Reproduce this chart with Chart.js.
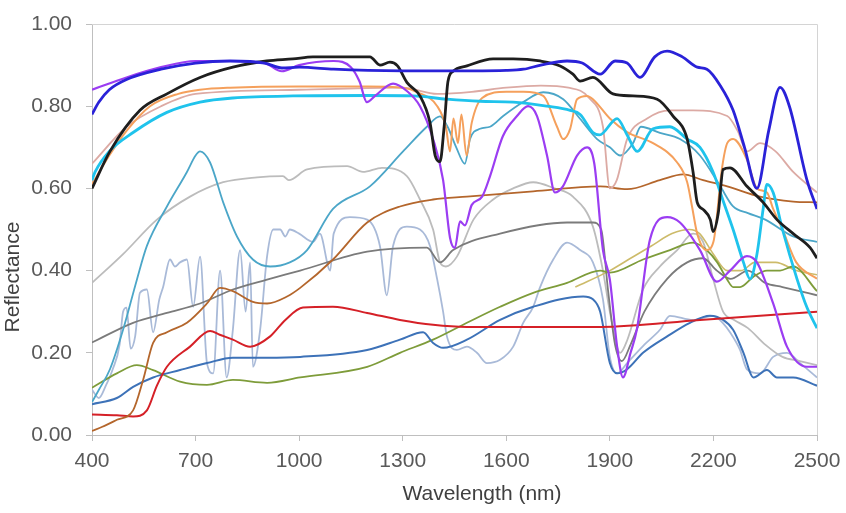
<!DOCTYPE html>
<html>
<head>
<meta charset="utf-8">
<title>Reflectance spectra</title>
<script src="https://cdn.jsdelivr.net/npm/chart.js@4.4.1/dist/chart.umd.min.js"></script>
<style>
  html, body { margin: 0; padding: 0; background: #fff; }
  #wrap { width: 846px; height: 513px; }
</style>
</head>
<body>
<div id="wrap"><canvas id="spectra" width="846" height="513"></canvas></div>
<script>
/* axis ticks */
const X_TICKS = [400, 700, 1000, 1300, 1600, 1900, 2200, 2500];
const Y_TICKS = [0, 0.2, 0.4, 0.6, 0.8, 1.0];

/* spectra: wavelength (nm) / reflectance pairs of arrays */
const blueNm = [400,420,450,500,600,700,800,900,950,1000,1100,1200,1300,1400,1500,1600,1650,1700,1776,1820,1872,1915,1950,1987,2030,2066,2110,2153,2181,2220,2257,2290,2326,2360,2393,2420,2471,2500];
const blueR  = [0.78,0.81,0.84,0.865,0.89,0.905,0.91,0.905,0.893,0.895,0.89,0.887,0.886,0.886,0.886,0.887,0.89,0.90,0.91,0.905,0.878,0.91,0.905,0.87,0.92,0.934,0.92,0.895,0.89,0.85,0.79,0.70,0.60,0.74,0.846,0.80,0.62,0.55];

const purpleNm = [400,500,600,700,800,900,950,1000,1100,1150,1175,1196,1220,1272,1312,1350,1388,1417,1437,1451,1466,1480,1500,1530,1553,1590,1631,1663,1689,1718,1741,1764,1805,1834,1855,1880,1900,1921,1938,1960,1978,2016,2066,2103,2161,2210,2248,2297,2326,2373,2413,2471,2500];
const purpleR  = [0.84,0.87,0.895,0.91,0.91,0.905,0.885,0.90,0.91,0.895,0.86,0.81,0.825,0.855,0.837,0.80,0.72,0.62,0.48,0.455,0.52,0.51,0.56,0.58,0.63,0.727,0.776,0.80,0.776,0.68,0.59,0.605,0.68,0.70,0.66,0.45,0.378,0.215,0.14,0.20,0.256,0.475,0.53,0.517,0.45,0.373,0.40,0.435,0.42,0.32,0.215,0.166,0.166];

const blackNm = [400,452,539,617,713,808,906,982,1040,1139,1205,1234,1263,1285,1312,1350,1379,1394,1408,1420,1431,1446,1486,1562,1620,1698,1756,1793,1814,1851,1909,1967,2037,2083,2124,2141,2153,2170,2191,2199,2214,2228,2248,2297,2344,2384,2431,2480,2500];
const blackR  = [0.60,0.69,0.79,0.83,0.87,0.895,0.91,0.915,0.92,0.92,0.92,0.90,0.907,0.898,0.858,0.825,0.76,0.68,0.665,0.75,0.86,0.885,0.898,0.915,0.915,0.91,0.898,0.878,0.861,0.87,0.83,0.825,0.817,0.776,0.72,0.64,0.566,0.549,0.524,0.495,0.54,0.646,0.65,0.605,0.566,0.524,0.49,0.456,0.43];

const orangeNm = [400,450,500,568,650,713,800,1000,1200,1300,1340,1400,1425,1437,1447,1460,1470,1485,1500,1530,1600,1650,1707,1747,1765,1785,1805,1834,1851,1900,1950,2025,2095,2124,2138,2153,2180,2200,2225,2240,2257,2297,2326,2355,2373,2400,2440,2500];
const orangeR  = [0.61,0.68,0.74,0.80,0.83,0.84,0.845,0.848,0.848,0.845,0.835,0.80,0.75,0.69,0.77,0.71,0.78,0.68,0.76,0.82,0.835,0.835,0.825,0.75,0.72,0.745,0.817,0.825,0.817,0.77,0.737,0.71,0.663,0.615,0.556,0.49,0.45,0.47,0.65,0.71,0.72,0.67,0.60,0.59,0.55,0.50,0.42,0.38];

const rosyNm = [400,500,600,700,1000,1300,1400,1500,1600,1700,1780,1840,1880,1900,1920,1950,2008,2074,2141,2240,2270,2297,2335,2380,2431,2500];
const rosyR  = [0.66,0.75,0.80,0.83,0.84,0.845,0.83,0.835,0.845,0.85,0.845,0.82,0.75,0.60,0.62,0.72,0.77,0.79,0.79,0.776,0.74,0.69,0.71,0.69,0.64,0.59];

const cyanNm = [400,409,450,519,617,713,808,982,1200,1330,1428,1524,1620,1718,1785,1814,1851,1870,1921,1950,1979,2025,2074,2124,2161,2199,2228,2257,2287,2306,2326,2344,2355,2373,2400,2442,2471,2500];
const cyanR  = [0.62,0.64,0.69,0.736,0.785,0.81,0.82,0.825,0.826,0.825,0.817,0.812,0.81,0.80,0.79,0.78,0.736,0.73,0.77,0.73,0.69,0.745,0.75,0.72,0.70,0.64,0.57,0.50,0.42,0.38,0.44,0.55,0.61,0.59,0.50,0.38,0.31,0.26];

const tealNm = [400,420,452,490,530,559,617,675,700,713,742,780,820,866,916,973,1023,1098,1205,1301,1370,1408,1430,1455,1480,1495,1524,1553,1591,1649,1707,1765,1813,1863,1900,1930,1967,1990,2045,2103,2161,2220,2257,2300,2350,2431,2500];
const tealR  = [0.08,0.11,0.16,0.256,0.378,0.46,0.556,0.64,0.68,0.69,0.663,0.566,0.483,0.427,0.41,0.42,0.45,0.55,0.605,0.69,0.75,0.775,0.75,0.70,0.66,0.72,0.745,0.75,0.776,0.81,0.834,0.817,0.77,0.72,0.70,0.68,0.71,0.75,0.735,0.72,0.68,0.605,0.556,0.54,0.524,0.483,0.47];

const lightGrayNm = [400,490,588,684,780,878,953,970,1023,1139,1185,1240,1312,1350,1388,1408,1425,1457,1505,1562,1620,1678,1740,1793,1851,1880,1900,1930,1950,1996,2045,2095,2141,2170,2199,2228,2260,2300,2350,2400,2450,2500];
const lightGrayR  = [0.37,0.44,0.524,0.58,0.615,0.627,0.63,0.62,0.646,0.654,0.64,0.65,0.63,0.573,0.50,0.42,0.41,0.434,0.524,0.573,0.60,0.615,0.60,0.58,0.507,0.40,0.30,0.20,0.23,0.354,0.41,0.45,0.49,0.47,0.38,0.30,0.28,0.26,0.22,0.19,0.18,0.17];

const steelNm = [400,420,440,460,480,490,500,512,525,539,559,577,595,606,626,640,655,675,693,713,733,751,771,790,808,829,845,858,866,887,907,925,945,960,973,1000,1040,1060,1090,1100,1147,1197,1234,1254,1272,1312,1350,1379,1400,1417,1428,1457,1486,1515,1544,1582,1620,1649,1678,1698,1736,1776,1814,1851,1880,1900,1921,1950,2000,2045,2074,2141,2199,2230,2248,2277,2297,2335,2373,2413,2451,2500];
const steelR  = [0.11,0.09,0.12,0.16,0.22,0.30,0.31,0.21,0.24,0.346,0.354,0.25,0.33,0.36,0.427,0.41,0.42,0.427,0.312,0.434,0.175,0.15,0.40,0.14,0.256,0.45,0.30,0.42,0.166,0.256,0.434,0.50,0.50,0.483,0.50,0.49,0.47,0.49,0.40,0.49,0.53,0.524,0.46,0.34,0.46,0.507,0.50,0.46,0.378,0.30,0.24,0.207,0.215,0.20,0.175,0.183,0.215,0.273,0.312,0.36,0.427,0.468,0.45,0.42,0.33,0.19,0.15,0.175,0.22,0.256,0.29,0.28,0.29,0.27,0.25,0.207,0.16,0.15,0.19,0.20,0.175,0.14];

const brownNm = [400,430,472,519,548,577,617,675,733,771,808,866,907,965,1003,1098,1197,1292,1388,1486,1678,1872,1950,2045,2112,2170,2240,2335,2431,2500];
const brownR  = [0.01,0.02,0.037,0.06,0.134,0.224,0.25,0.273,0.32,0.358,0.35,0.324,0.32,0.337,0.358,0.427,0.517,0.556,0.573,0.58,0.593,0.605,0.598,0.62,0.634,0.62,0.605,0.58,0.568,0.566];

const darkGrayNm = [400,519,617,713,808,907,1003,1197,1370,1408,1446,1582,1776,1851,1875,1895,1915,1935,1960,2000,2066,2124,2170,2210,2250,2300,2350,2400,2450,2500];
const darkGrayR  = [0.225,0.273,0.297,0.32,0.354,0.378,0.40,0.446,0.456,0.42,0.45,0.49,0.517,0.517,0.50,0.35,0.22,0.18,0.22,0.30,0.38,0.42,0.43,0.40,0.38,0.40,0.37,0.36,0.35,0.34];

const redNm = [400,472,519,559,588,617,684,742,770,808,858,916,960,1011,1098,1197,1292,1388,1486,1678,1872,2161,2500];
const redR  = [0.05,0.048,0.045,0.06,0.12,0.166,0.215,0.253,0.244,0.232,0.215,0.24,0.28,0.31,0.312,0.297,0.28,0.268,0.263,0.263,0.263,0.28,0.30];

const midBlueNm = [400,472,519,577,655,733,808,907,1003,1197,1292,1359,1388,1417,1486,1582,1678,1823,1851,1872,1900,1921,1950,1996,2066,2132,2190,2228,2257,2287,2316,2355,2384,2431,2500];
const midBlueR  = [0.075,0.09,0.117,0.14,0.158,0.175,0.188,0.188,0.19,0.207,0.232,0.25,0.224,0.212,0.232,0.28,0.312,0.337,0.33,0.30,0.175,0.15,0.16,0.20,0.24,0.273,0.29,0.28,0.256,0.20,0.14,0.158,0.14,0.14,0.12];

const oliveNm = [400,472,530,577,655,733,808,907,1003,1197,1292,1388,1486,1582,1678,1776,1872,1900,1996,2074,2141,2180,2211,2240,2257,2277,2316,2355,2393,2431,2500];
const oliveR  = [0.115,0.15,0.17,0.158,0.13,0.122,0.134,0.127,0.14,0.166,0.20,0.232,0.273,0.312,0.346,0.37,0.40,0.395,0.427,0.45,0.468,0.45,0.42,0.378,0.36,0.36,0.385,0.40,0.40,0.41,0.35];

const khakiNm = [1800,1900,1960,2020,2080,2130,2160,2200,2240,2280,2320,2380,2440,2500];
const khakiR  = [0.36,0.40,0.43,0.46,0.49,0.50,0.49,0.44,0.40,0.40,0.42,0.42,0.40,0.39];

function pts(nm, r) {
  return nm.map((w, i) => ({ x: w, y: r[i] }));
}

function series(nm, r, color, width) {
  return {
    data: pts(nm, r),
    borderColor: color,
    borderWidth: width,
    pointRadius: 0,
    cubicInterpolationMode: "monotone",
    fill: false
  };
}

const FONT = "'Liberation Sans', Arial, sans-serif";
const TEXT = "#595959";
const AXIS = "#bfbfbf";

/* plot frame plus axis titles */
const frame = {
  id: "frame",
  afterDraw(chart) {
    const { ctx, chartArea: a } = chart;
    ctx.save();
    ctx.strokeStyle = "#d4d4d4";
    ctx.lineWidth = 1;
    ctx.beginPath();
    ctx.moveTo(a.left, a.top + 0.5);
    ctx.lineTo(a.right + 0.5, a.top + 0.5);
    ctx.lineTo(a.right + 0.5, a.bottom);
    ctx.stroke();

    ctx.fillStyle = "#404040";
    ctx.font = "21px " + FONT;
    ctx.textAlign = "center";
    ctx.textBaseline = "middle";
    ctx.fillText("Wavelength (nm)", 482, 494);
    ctx.translate(13, 277);
    ctx.rotate(-Math.PI / 2);
    ctx.fillText("Reflectance", 0, 0);
    ctx.restore();
  }
};

new Chart(document.getElementById("spectra"), {
  type: "line",
  data: {
    datasets: [
      series(blueNm, blueR, "#2a22d8", 2.8),
      series(blackNm, blackR, "#1e1e1e", 2.8),
      series(purpleNm, purpleR, "#9b3df2", 2.2),
      series(cyanNm, cyanR, "#1fc3ec", 2.8),
      series(orangeNm, orangeR, "#f5a05c", 2),
      series(rosyNm, rosyR, "#dcaaa4", 1.8),
      series(tealNm, tealR, "#4ba6c8", 1.8),
      series(brownNm, brownR, "#b4662c", 1.8),
      series(redNm, redR, "#d52027", 2),
      series(midBlueNm, midBlueR, "#3d72b8", 2),
      series(oliveNm, oliveR, "#7e9c3a", 1.8),
      series(darkGrayNm, darkGrayR, "#7b7b7b", 1.8),
      series(khakiNm, khakiR, "#cdbb6a", 1.6),
      series(lightGrayNm, lightGrayR, "#bcbcbc", 1.8),
      series(steelNm, steelR, "#a9bad8", 1.8)
    ]
  },
  options: {
    responsive: false,
    animation: false,
    devicePixelRatio: 1,
    layout: { padding: { top: 24, right: 29, left: 0, bottom: 0 } },
    plugins: { legend: { display: false }, tooltip: { enabled: false } },
    scales: {
      x: {
        type: "linear",
        min: 400,
        max: 2500,
        afterBuildTicks: s => { s.ticks = X_TICKS.map(v => ({ value: v })); },
        afterFit: s => { s.height = 78; s.paddingRight = 0; s.paddingLeft = 0; },
        border: { color: AXIS, width: 1 },
        grid: { display: true, drawOnChartArea: false, drawTicks: true, tickLength: 6, color: AXIS },
        ticks: {
          color: TEXT,
          padding: 8,
          maxRotation: 0,
          font: { family: FONT, size: 21 },
          callback: v => String(v)
        }
      },
      y: {
        min: 0,
        max: 1,
        afterBuildTicks: s => { s.ticks = Y_TICKS.map(v => ({ value: v })); },
        afterFit: s => { s.width = 92; s.paddingTop = 0; s.paddingBottom = 0; },
        border: { color: AXIS, width: 1 },
        grid: { display: true, drawOnChartArea: false, drawTicks: true, tickLength: 6, color: AXIS },
        ticks: {
          color: TEXT,
          padding: 14,
          font: { family: FONT, size: 21 },
          callback: v => v.toFixed(2)
        }
      }
    }
  },
  plugins: [frame]
});
</script>
</body>
</html>
